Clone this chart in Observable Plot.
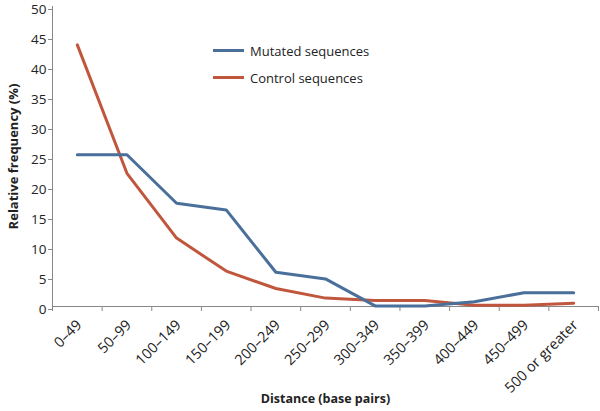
<!DOCTYPE html>
<html>
<head>
<meta charset="utf-8">
<script src="https://cdn.jsdelivr.net/npm/d3@7"></script>
<script src="https://cdn.jsdelivr.net/npm/@observablehq/plot@0.6"></script>
<style>
  html, body { margin: 0; padding: 0; background: #fff; }
  #wrap { position: relative; width: 600px; height: 411px; font-family: "Open Sans", sans-serif; }
  #wrap svg { overflow: visible; }
  #legend { position: absolute; left: 213px; top: 37px; font-size: 13px; color: #222; }
  .item { display: flex; align-items: center; height: 27px; }
  .sw { width: 31px; height: 0; border-top: 3px solid; margin-right: 6px; }
</style>
</head>
<body>
<div id="wrap"></div>
<script>
const categories = ["0–49","50–99","100–149","150–199","200–249","250–299","300–349","350–399","400–449","450–499","500 or greater"];
const mutated = [25.3, 25.3, 17.2, 16.1, 5.7, 4.6, 0.1, 0.1, 0.8, 2.3, 2.3];
const control = [43.6, 22.2, 11.4, 5.9, 3.0, 1.4, 1.0, 1.0, 0.2, 0.2, 0.55];
const yTicks = [0,5,10,15,20,25,30,35,40,45,50];
const seriesNames = ["Mutated sequences", "Control sequences"];
const colors = ["#4a6f9b", "#c0573c"];

const mutData = categories.map((c, i) => ({i: i + 0.5, v: mutated[i]}));
const ctlData = categories.map((c, i) => ({i: i + 0.5, v: control[i]}));
const labData = categories.map((c, i) => ({i: i + 0.5, c}));
const bounds = d3.range(categories.length + 1);

const chart = Plot.plot({
  width: 600,
  height: 411,
  marginLeft: 52,
  marginRight: 2,
  marginTop: 6,
  marginBottom: 105,
  style: {fontFamily: "Open Sans, sans-serif", fontSize: "14px", color: "#222", background: "#fff"},
  x: {domain: [0, categories.length], axis: null},
  y: {domain: [0, 50], axis: null},
  marks: [
    Plot.axisY({ticks: yTicks, tickSize: 4, tickPadding: 2, stroke: "#888", fontSize: 13.5, dy: 3, label: null}),
    Plot.axisY({ticks: [], label: "Relative frequency (%)", labelAnchor: "center", labelArrow: "none", labelOffset: 44, fontSize: 13, fontWeight: "bold"}),
    Plot.axisX({ticks: bounds, tickSize: 5, tickFormat: () => "", stroke: "#888",
      label: "Distance (base pairs)", labelAnchor: "center", labelArrow: "none", labelOffset: 96, fontSize: 12.5, fontWeight: "bold"}),
    Plot.ruleX([0], {stroke: "#888"}),
    Plot.ruleY([0], {stroke: "#888"}),
    Plot.text(labData, {x: "i", y: () => 0, text: "c", rotate: -45, textAnchor: "end", dx: 2, dy: 16, fill: "#222", fontSize: 14.5}),
    Plot.line(ctlData, {x: "i", y: "v", stroke: colors[1], strokeWidth: 3}),
    Plot.line(mutData, {x: "i", y: "v", stroke: colors[0], strokeWidth: 3})
  ]
});
document.getElementById("wrap").appendChild(chart);

const legend = document.createElement("div");
legend.id = "legend";
seriesNames.forEach((n, k) => {
  const it = document.createElement("div");
  it.className = "item";
  const sw = document.createElement("span");
  sw.className = "sw";
  sw.style.borderColor = colors[k];
  it.appendChild(sw);
  it.appendChild(document.createTextNode(n));
  legend.appendChild(it);
});
document.getElementById("wrap").appendChild(legend);
</script>
</body>
</html>
